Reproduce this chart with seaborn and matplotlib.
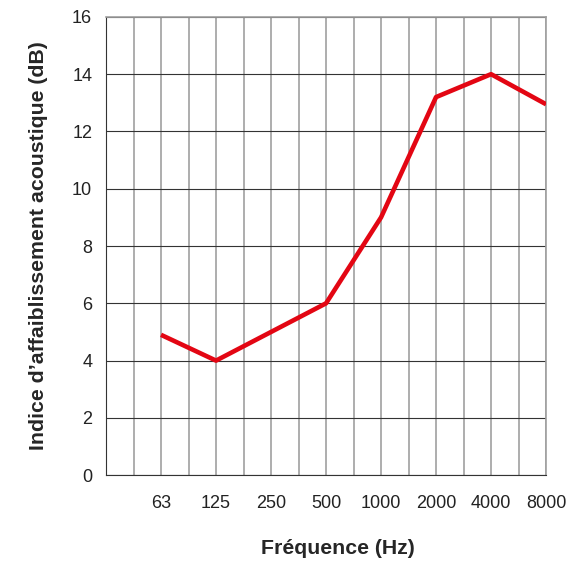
import numpy as np
import pandas as pd
import seaborn as sns
import matplotlib.pyplot as plt

frequencies = ['63', '125', '250', '500', '1000', '2000', '4000', '8000']
attenuation = [4.9, 4.0, 5.0, 6.0, 9.0, 13.2, 14.0, 12.95]

df = pd.DataFrame({'freq': frequencies, 'db': attenuation})

sns.set_style('white')
plt.rcParams['font.family'] = ['Liberation Sans', 'DejaVu Sans']

fig = plt.figure(figsize=(5.7, 5.63), dpi=100)
ax = fig.add_axes([0.186, 0.156, 0.772, 0.814])

sns.lineplot(data=df, x='freq', y='db', color='#e30613', linewidth=3.3, ax=ax,
             zorder=5, solid_capstyle='butt')

ax.set_xlim(-1, 7)
ax.set_ylim(0, 16)
ax.set_xticks(np.arange(-1, 8))
ax.set_xticklabels([''] + frequencies)
ax.set_xticks(np.arange(-0.5, 7, 1.0), minor=True)
ax.set_yticks(np.arange(0, 17, 2))

ax.grid(axis='x', which='both', color='#a0a0a0', linewidth=1.2)
ax.grid(axis='y', which='major', color='#333333', linewidth=0.8)
ax.tick_params(axis='both', which='major', direction='out', length=5, width=0.8,
               color='#333333', labelsize=13, labelcolor='#222222')
ax.tick_params(axis='x', pad=9)
ax.tick_params(axis='y', pad=5)
ax.tick_params(axis='x', which='minor', length=0)

for side in ['top', 'right']:
    ax.spines[side].set_color('#a0a0a0')
    ax.spines[side].set_linewidth(1.2)
for side in ['left', 'bottom']:
    ax.spines[side].set_color('#333333')
    ax.spines[side].set_linewidth(0.8)

ax.set_xlabel('Fréquence (Hz)', fontsize=15.3, fontweight='bold', labelpad=20)
ax.xaxis.label.set_x(0.527)
ax.set_ylabel('Indice d\u2019affaiblissement acoustique (dB)', fontsize=15.3,
              fontweight='bold', labelpad=17)

fig.savefig('out.png', dpi=100)
